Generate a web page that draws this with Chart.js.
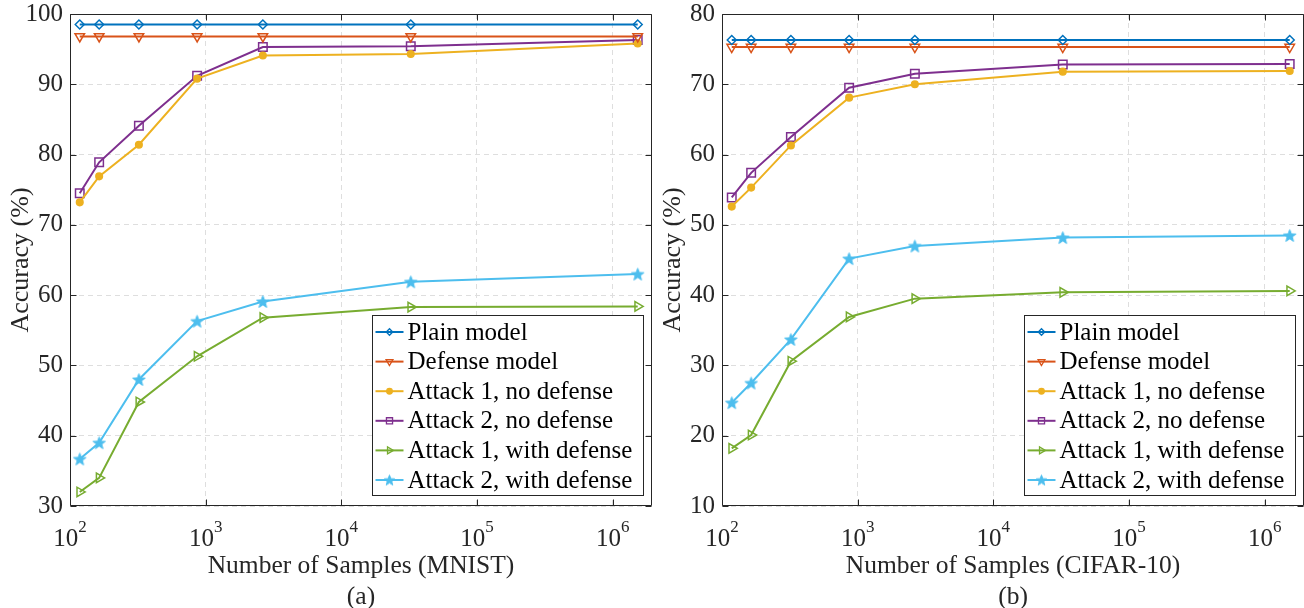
<!DOCTYPE html>
<html lang="en">
<head>
<meta charset="UTF-8">
<title>Accuracy vs Number of Samples</title>
<script src="https://cdn.jsdelivr.net/npm/chart.js"></script>
<style>
    body {
        margin: 0;
        background: #fff;
    }
    .panel {
        position: absolute;
        top: 0;
        width: 652px;
        height: 608px;
    }
    #panelA { left: 0; }
    #panelB { left: 652px; }
</style>
</head>
<body>
<div class="panel" id="panelA"><canvas id="chartA" width="652" height="608"></canvas></div>
<div class="panel" id="panelB"><canvas id="chartB" width="652" height="608"></canvas></div>

<script>
// x positions (number of samples), shared by both panels
const samples = [118, 164, 322, 865, 2640, 32500, 1530000];
const xTicks = [100, 1000, 10000, 100000, 1000000];
const seriesNames = ['Plain model', 'Defense model', 'Attack 1, no defense',
    'Attack 2, no defense', 'Attack 1, with defense', 'Attack 2, with defense'];

// (a) MNIST
const mnistPlain    = [98.5, 98.5, 98.5, 98.5, 98.5, 98.5, 98.5];
const mnistDefense  = [96.8, 96.8, 96.8, 96.8, 96.8, 96.8, 96.8];
const mnistAtk1     = [73.2, 76.9, 81.4, 90.8, 94.1, 94.3, 95.8];
const mnistAtk2     = [74.5, 78.9, 84.1, 91.2, 95.3, 95.4, 96.3];
const mnistAtk1Def  = [32.0, 34.0, 44.8, 51.3, 56.8, 58.3, 58.4];
const mnistAtk2Def  = [36.7, 39.0, 48.0, 56.3, 59.1, 61.9, 63.0];
const mnistYTicks   = [30, 40, 50, 60, 70, 80, 90, 100];

// (b) CIFAR-10
const cifarPlain    = [76.3, 76.3, 76.3, 76.3, 76.3, 76.3, 76.3];
const cifarDefense  = [75.3, 75.3, 75.3, 75.3, 75.3, 75.3, 75.3];
const cifarAtk1     = [52.6, 55.3, 61.3, 68.1, 70.0, 71.8, 71.9];
const cifarAtk2     = [53.9, 57.4, 62.5, 69.5, 71.5, 72.8, 72.9];
const cifarAtk1Def  = [18.2, 20.1, 30.6, 36.9, 39.5, 40.4, 40.6];
const cifarAtk2Def  = [24.7, 27.5, 33.7, 45.2, 47.0, 48.2, 48.5];
const cifarYTicks   = [10, 20, 30, 40, 50, 60, 70, 80];

const FONT = "'Liberation Serif', 'Times New Roman', serif";
const INK = '#262626';
const GRID = '#dedede';

function makeStar(color, outer) {
    const size = Math.ceil(outer * 2 + 2);
    const c = document.createElement('canvas');
    c.width = size; c.height = size;
    const g = c.getContext('2d');
    const mid = size / 2;
    g.beginPath();
    for (let i = 0; i < 10; i++) {
        const r = i % 2 === 0 ? outer : outer * 0.42;
        const a = -Math.PI / 2 + i * Math.PI / 5;
        const px = mid + r * Math.cos(a), py = mid + outer * 0.1 + r * Math.sin(a);
        if (i === 0) g.moveTo(px, py); else g.lineTo(px, py);
    }
    g.closePath();
    g.fillStyle = color;
    g.fill();
    g.strokeStyle = color;
    g.lineWidth = 1;
    g.stroke();
    return c;
}

// marker / line look of each series (MATLAB default colour order)
const looks = [
    { color: '#0072BD', style: 'rectRot', radius: 4.5, rotation: 0, fill: 'rgba(0,0,0,0)' },
    { color: '#D95319', style: 'triangle', radius: 5.5, rotation: 180, fill: 'rgba(0,0,0,0)' },
    { color: '#EDB120', style: 'circle', radius: 3.3, rotation: 0, fill: '#EDB120' },
    { color: '#7E2F8E', style: 'rect', radius: 6, rotation: 0, fill: 'rgba(0,0,0,0)' },
    { color: '#77AC30', style: 'triangle', radius: 5.5, rotation: 90, fill: 'rgba(0,0,0,0)' },
    { color: '#4DBEEE', style: makeStar('#4DBEEE', 6.5), radius: 7, rotation: 0, fill: '#4DBEEE' }
];
const legendStar = makeStar('#4DBEEE', 5.5);

function pairs(values) {
    return samples.map((s, i) => ({ x: s, y: values[i] }));
}

function buildDatasets(seriesList) {
    return seriesList.map((vals, i) => ({
        label: seriesNames[i],
        data: pairs(vals),
        borderColor: looks[i].color,
        backgroundColor: looks[i].fill,
        borderWidth: 2,
        pointStyle: looks[i].style,
        pointRadius: looks[i].radius,
        pointRotation: looks[i].rotation,
        pointBorderWidth: 1.5,
        pointBorderColor: looks[i].color,
        pointBackgroundColor: looks[i].fill,
        tension: 0
    }));
}

// frame with inward ticks, superscript x labels and an in-plot legend
const axesDecor = {
    id: 'axesDecor',
    afterDraw(chart) {
        const { ctx, chartArea: a, scales: { x, y } } = chart;
        const L = Math.round(a.left) + 0.5, R = Math.round(a.right) - 0.5;
        const T = Math.round(a.top) + 0.5, B = Math.round(a.bottom) - 0.5;
        ctx.save();
        ctx.strokeStyle = INK;
        ctx.lineWidth = 1;
        ctx.beginPath();
        ctx.rect(L, T, R - L, B - T);
        y.ticks.forEach(t => {
            const py = Math.round(y.getPixelForValue(t.value)) + 0.5;
            ctx.moveTo(L, py); ctx.lineTo(L + 6, py);
            ctx.moveTo(R, py); ctx.lineTo(R - 6, py);
        });
        xTicks.forEach(v => {
            const px = Math.round(x.getPixelForValue(v)) + 0.5;
            ctx.moveTo(px, B); ctx.lineTo(px, B - 6);
            ctx.moveTo(px, T); ctx.lineTo(px, T + 6);
        });
        ctx.stroke();

        // 10^n tick labels
        ctx.fillStyle = INK;
        ctx.textBaseline = 'alphabetic';
        ctx.textAlign = 'left';
        xTicks.forEach(v => {
            const px = x.getPixelForValue(v);
            const exp = String(Math.round(Math.log10(v)));
            ctx.font = '25px ' + FONT;
            const wBase = ctx.measureText('10').width;
            ctx.font = '17px ' + FONT;
            const wExp = ctx.measureText(exp).width;
            const start = px - (wBase + wExp) / 2;
            ctx.font = '25px ' + FONT;
            ctx.fillText('10', start, B + 40);
            ctx.font = '17px ' + FONT;
            ctx.fillText(exp, start + wBase, B + 26);
        });

        // legend box
        const boxW = 271, boxH = 180;
        const bx = Math.round(a.right - 9 - boxW) + 0.5, by = 315.5;
        ctx.fillStyle = '#fff';
        ctx.fillRect(bx, by, boxW, boxH);
        ctx.strokeStyle = INK;
        ctx.lineWidth = 1;
        ctx.strokeRect(bx, by, boxW, boxH);
        chart.data.datasets.forEach((ds, i) => {
            const cy = by + 16.5 + i * 29.6;
            ctx.strokeStyle = ds.borderColor;
            ctx.lineWidth = 2;
            ctx.beginPath();
            ctx.moveTo(bx + 3, cy);
            ctx.lineTo(bx + 31, cy);
            ctx.stroke();
            ctx.fillStyle = ds.pointBackgroundColor;
            ctx.lineWidth = 1.3;
            const isImg = typeof ds.pointStyle === 'object';
            Chart.helpers.drawPoint(ctx, {
                pointStyle: isImg ? legendStar : ds.pointStyle,
                radius: ds.pointStyle === 'circle' ? 2.8 : ds.pointRadius * 0.72,
                rotation: ds.pointRotation,
                borderWidth: 1.3
            }, bx + 17, cy);
            ctx.fillStyle = '#000';
            ctx.font = '25px ' + FONT;
            ctx.textBaseline = 'middle';
            ctx.fillText(ds.label, bx + 35, cy + 1);
        });
        ctx.restore();
    }
};

function makeChart(canvasId, seriesList, yTicks, xTitle, panelLabel) {
    return new Chart(document.getElementById(canvasId), {
        type: 'line',
        data: { datasets: buildDatasets(seriesList) },
        options: {
            responsive: false,
            animation: false,
            layout: {
                autoPadding: false,
                padding: { top: 14, right: 0, left: 0, bottom: 0 }
            },
            plugins: {
                legend: { display: false },
                tooltip: { enabled: false }
            },
            scales: {
                x: {
                    type: 'logarithmic',
                    min: 100,
                    max: 1950000,
                    afterBuildTicks: s => { s.ticks = xTicks.map(v => ({ value: v })); },
                    afterFit: s => {
                        s.height = 102;
                        s.paddingLeft = 0;
                        s.paddingRight = 0;
                    },
                    ticks: { display: false },
                    grid: { color: GRID, lineWidth: 1, drawTicks: false },
                    border: { display: false, dash: [5, 4] },
                    title: {
                        display: true,
                        text: [xTitle, panelLabel],
                        color: INK,
                        font: { family: FONT, size: 25.5, lineHeight: 1.22 },
                        padding: { top: 0, bottom: -5 }
                    }
                },
                y: {
                    type: 'linear',
                    min: yTicks[0],
                    max: yTicks[yTicks.length - 1],
                    afterBuildTicks: s => { s.ticks = yTicks.map(v => ({ value: v })); },
                    afterFit: s => {
                        s.width = 70;
                        s.paddingTop = 0;
                        s.paddingBottom = 0;
                    },
                    ticks: {
                        color: INK,
                        padding: 7,
                        font: { family: FONT, size: 25, lineHeight: 1 }
                    },
                    grid: { color: GRID, lineWidth: 1, drawTicks: false },
                    border: { display: false, dash: [5, 4] },
                    title: {
                        display: true,
                        text: 'Accuracy (%)',
                        color: INK,
                        font: { family: FONT, size: 26, lineHeight: 1.2 },
                        padding: { top: 6, bottom: 0 }
                    }
                }
            }
        },
        plugins: [axesDecor]
    });
}

makeChart('chartA',
    [mnistPlain, mnistDefense, mnistAtk1, mnistAtk2, mnistAtk1Def, mnistAtk2Def],
    mnistYTicks, 'Number of Samples (MNIST)', '(a)');

makeChart('chartB',
    [cifarPlain, cifarDefense, cifarAtk1, cifarAtk2, cifarAtk1Def, cifarAtk2Def],
    cifarYTicks, 'Number of Samples (CIFAR-10)', '(b)');
</script>
</body>
</html>
